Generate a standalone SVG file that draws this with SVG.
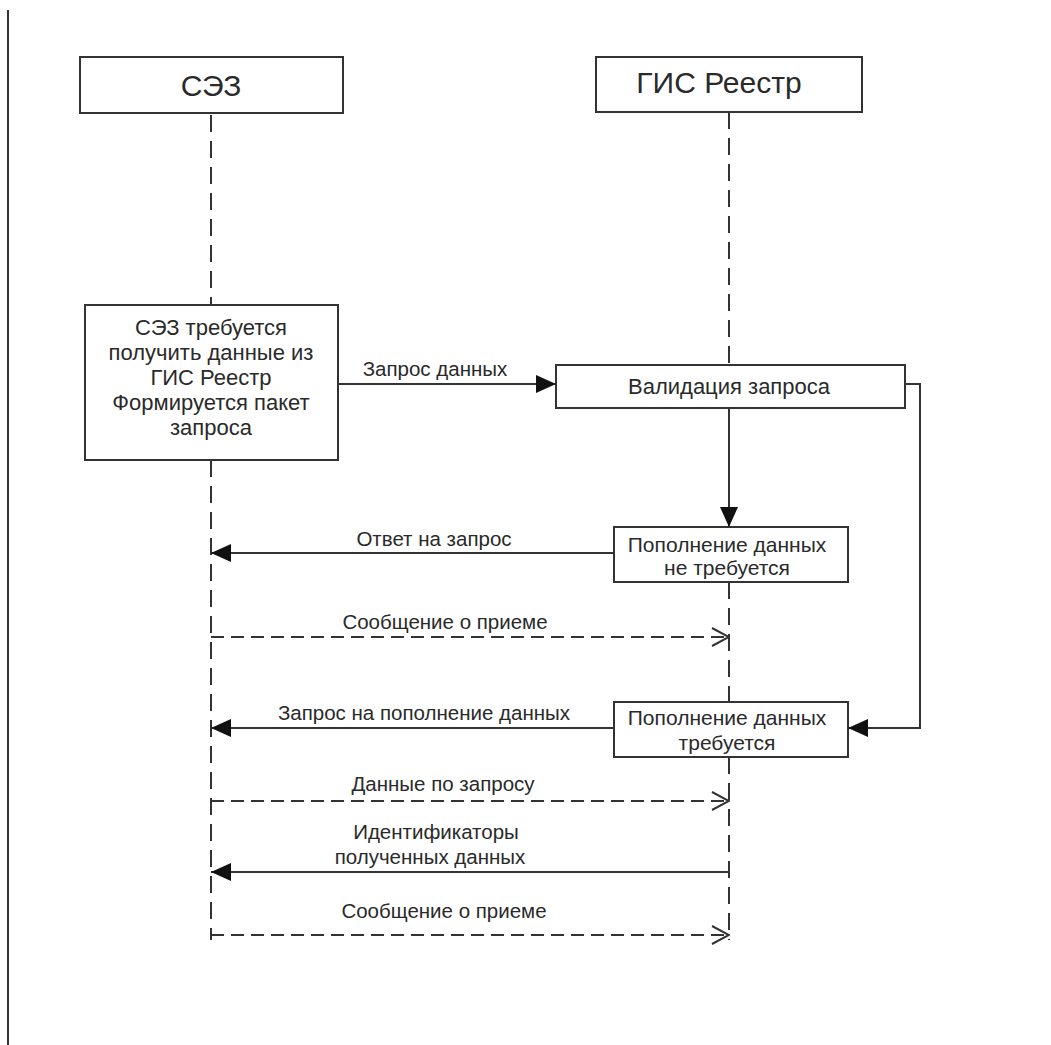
<svg xmlns="http://www.w3.org/2000/svg" width="1051" height="1045" viewBox="0 0 1051 1045">
<style>
text{font-family:"Liberation Sans",Arial,sans-serif;fill:#2a2a2a;text-anchor:middle}
.box{fill:#fff;stroke:#333;stroke-width:2}
.t{font-size:22px}
.s{font-size:21px}
.h{font-size:30px}
.l{font-size:20.5px}
.life{stroke:#333;stroke-width:2;fill:none;stroke-dasharray:17 9}
.msg{stroke:#333;stroke-width:2;fill:none}
.dmsg{stroke:#333;stroke-width:2;fill:none;stroke-dasharray:13 7}
</style>
<defs>
<marker id="fa" viewBox="0 0 20 20" refX="20" refY="10" markerWidth="20" markerHeight="20" markerUnits="userSpaceOnUse" orient="auto"><path d="M0,1 L20,10 L0,19 Z" fill="#111"/></marker>
<marker id="oa" viewBox="0 0 20 20" refX="19" refY="10" markerWidth="20" markerHeight="20" markerUnits="userSpaceOnUse" orient="auto"><path d="M2,1 L19,10 L2,19" fill="none" stroke="#333" stroke-width="2"/></marker>
</defs>
<rect width="1051" height="1045" fill="#fff"/>
<line x1="8" y1="10" x2="8" y2="1045" stroke="#333" stroke-width="2"/>
<g id="lifelines">
<path class="life" d="M211,115 V305"/>
<path class="life" d="M211,460 V940"/>
<path class="life" d="M729,112 V365"/>
<path class="life" d="M729,582 V702"/>
<path class="life" d="M729,757 V940"/>
</g>
<g id="n-sez"><rect class="box" x="80" y="57" width="263" height="56"/><text class="h" x="211" y="96">СЭЗ</text></g>
<g id="n-gis"><rect class="box" x="596" y="57" width="266" height="55"/><text class="h" x="719" y="93">ГИС Реестр</text></g>
<g id="n-req"><rect class="box" x="85" y="305" width="253" height="155"/>
<text class="t" x="211" y="335">СЭЗ требуется</text>
<text class="t" x="211" y="360">получить данные из</text>
<text class="t" x="211" y="385">ГИС Реестр</text>
<text class="t" x="211" y="410">Формируется пакет</text>
<text class="t" x="211" y="435">запроса</text></g>
<g id="n-valid"><rect class="box" x="556" y="365" width="349" height="43"/><text class="t" x="729" y="394">Валидация запроса</text></g>
<g id="n-no"><rect class="box" x="614" y="527" width="234" height="55"/><text class="s" x="727" y="552">Пополнение данных</text><text class="s" x="727" y="575">не требуется</text></g>
<g id="n-yes"><rect class="box" x="614" y="702" width="234" height="55"/><text class="s" x="727" y="725">Пополнение данных</text><text class="s" x="727" y="750">требуется</text></g>
<g id="connectors">
<path class="msg" d="M338,384 H556" marker-end="url(#fa)"/>
<path class="msg" d="M729,408 V527" marker-end="url(#fa)"/>
<path class="msg" d="M905,384 H920 V728 H848" marker-end="url(#fa)"/>
<path class="msg" d="M614,553 H211" marker-end="url(#fa)"/>
<path class="dmsg" d="M211,637 H729" marker-end="url(#oa)"/>
<path class="msg" d="M614,728 H211" marker-end="url(#fa)"/>
<path class="dmsg" d="M211,801 H729" marker-end="url(#oa)"/>
<path class="msg" d="M729,872 H211" marker-end="url(#fa)"/>
<path class="dmsg" d="M211,935 H729" marker-end="url(#oa)"/>
</g>
<g id="labels">
<text class="l" x="435" y="376">Запрос данных</text>
<text class="l" x="434" y="546">Ответ на запрос</text>
<text class="l" x="445" y="629">Сообщение о приеме</text>
<text class="l" x="424" y="720">Запрос на пополнение данных</text>
<text class="l" x="443" y="791">Данные по запросу</text>
<text class="l" x="436" y="839">Идентификаторы</text>
<text class="l" x="430" y="864">полученных данных</text>
<text class="l" x="444" y="918">Сообщение о приеме</text>
</g>
</svg>
